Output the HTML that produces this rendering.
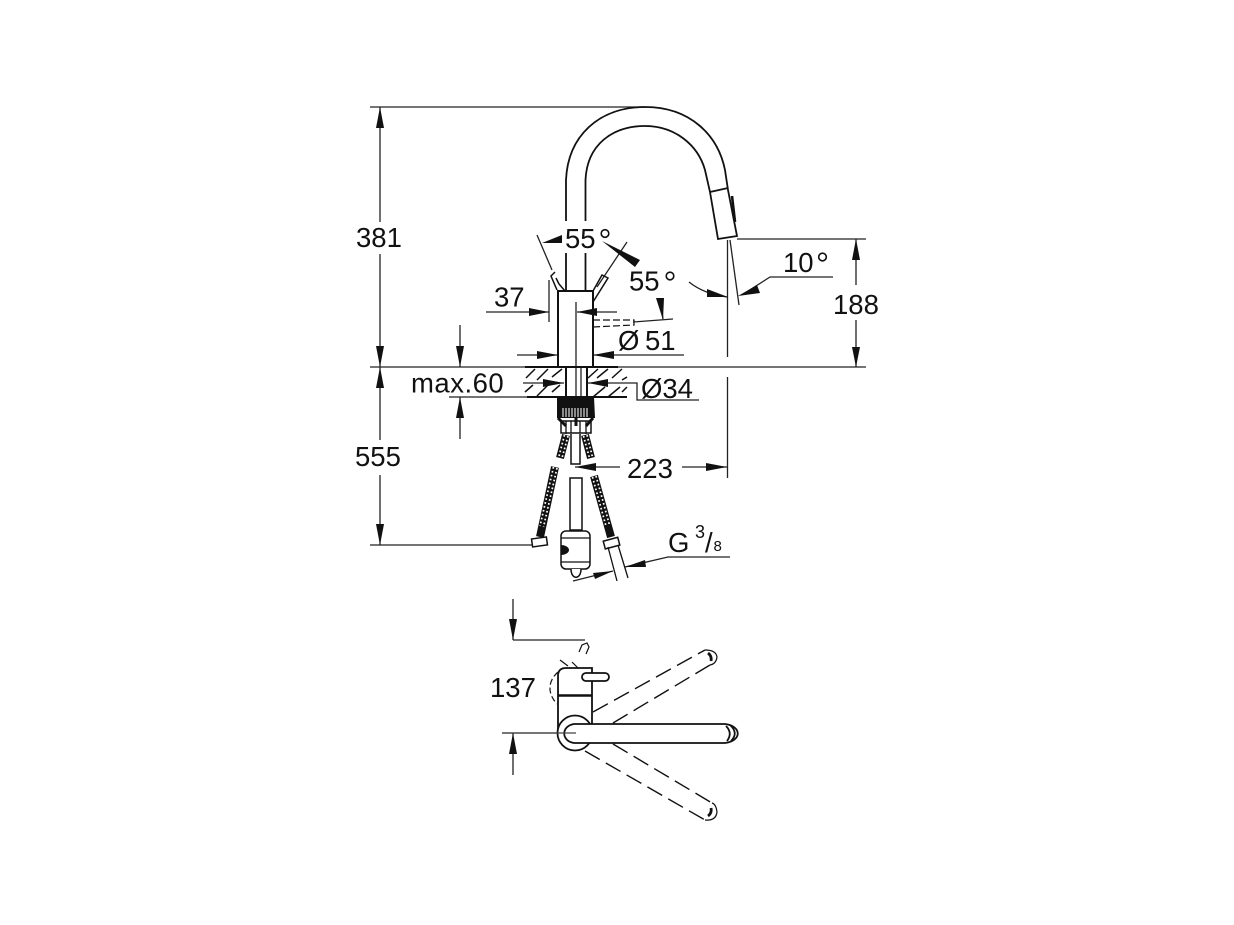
<!DOCTYPE html>
<html><head><meta charset="utf-8">
<style>
html,body{margin:0;padding:0;background:#fff;width:1234px;height:925px;overflow:hidden}
svg{display:block}
text{font-family:"Liberation Sans",sans-serif;font-size:27.5px;fill:#111}
</style></head><body>
<svg width="1234" height="925" viewBox="0 0 1234 925" xmlns="http://www.w3.org/2000/svg">
<rect width="1234" height="925" fill="#fff"/>
<!-- thin dimension lines -->
<g fill="none" stroke="#222" stroke-width="1.3">
<path d="M370 107H645M370 367H866M380 107V222M380 254V367M380 367V440M380 475V545M370 545H533"/>
<path d="M737 239H866M856 239V285M856 320V367"/>
<path d="M727.500 240V357M727.500 377V478M730 240L739 305M833 277H770L745 293M689 282Q704 294 727 297"/>
<path d="M575 467H620M682 467H727"/>
<path d="M486 312H549M549 280V322M576 302V400M581 367V397M577 312H617M517 355H558M593 355H684"/>
<path d="M523 383H564M588 383H637V400H699M460 325V367M460 397V439M449 397H560"/>
<path d="M537 235L552 270M627 242L597 287M633 322L673 319M660 298L663 319"/>
<path d="M573 581L613 571M625 567L668 557H730M513 599V640M513 640H585M513 733V775M502 733H575"/>
</g>
<!-- hatch -->
<g stroke="#111" stroke-width="1.500" fill="none">
<path d="M526 378L535 369M537 380L548 369M552 377L562 369M525 392L533 385M537 396L548 385M552 392L560 385"/>
<path d="M588 378L598 369M597 378L608 369M612 378L622 369M593 397L605 387M608 397L620 387M622 380L627 377M622 392L627 387"/>
<path d="M525 367H618M527 397H627" stroke-width="2"/>
</g>
<!-- spout -->
<g fill="none" stroke="#111" stroke-width="1.800">
<path d="M566 291V180C568 135 600 107 645 107C690 107 718 135 725 170L728 190L737 236L718 239L710 192L705 170C698 145 675 126 645 126C612 126 587 145 585.500 180V291"/>
<path d="M710 192L728 188"/>
<path d="M732 196L735 222" stroke-width="2.600"/>
</g>
<rect x="560" y="221" width="32" height="32" fill="#fff"/>
<g fill="none" stroke="#111" stroke-width="2">
<path d="M558 367V291H593V367M566 367V397M587 367V397"/>
<path d="M593 291L602 275L608 278L593 302" stroke-width="1.500"/>
<path d="M557 290L551 276L555 272M556 278L559 284M559 284L565 291" stroke-width="1.500"/>
</g>
<path d="M593 320H634V325L593 327" fill="none" stroke="#111" stroke-width="1.200" stroke-dasharray="7 3"/>
<!-- lower assembly -->
<path d="M557 397H594L595 418H557Z" fill="#111"/>
<path d="M563 417V408M566 417V408M569 417V408M572 417V408M575 417V408M578 417V408M581 417V408M584 417V408M587 417V408" stroke="#ddd" stroke-width="1.200"/>
<path d="M561 421H591V433H561Z" fill="#fff" stroke="#111" stroke-width="1.500"/>
<path d="M558 418L566 426M593 418L586 426M576 418V426" stroke="#111" stroke-width="3"/>
<path d="M571 421V433M580 421V433M566 421V434M586 421V434" stroke="#111" stroke-width="1.300"/>
<g fill="none" stroke-linecap="butt">
<path d="M566 435L560 458M585 435L591 458M555 467L540 537M594 476L611 537" stroke="#111" stroke-width="8"/>
<g stroke="#fff" stroke-width="1.700" stroke-dasharray="1.700 2.300">
<path d="M564.500 435L558.500 458M568 436L562 458M583.500 436L589.500 458M587 435L592.700 458"/>
<path d="M553.500 467L540 526M557 468L543.500 527M592.500 477L606 526M596 476L609.500 525"/>
</g>
</g>
<g fill="#fff" stroke="#111" stroke-width="1.500">
<path d="M571 434V464H580V434"/>
<path d="M570 478V530H582V478Z"/>
<rect x="561" y="531" width="29" height="38" rx="5"/>
<path d="M571 569C571 580 581 580 581 569"/>
<rect x="532" y="538" width="15" height="8" transform="rotate(-8 539 542)"/>
<rect x="604" y="539" width="15" height="8" transform="rotate(-15 612 543)"/>
</g>
<path d="M561 538H590M561 562H590" stroke="#111" stroke-width="1.300"/>
<path d="M561 545A8 5 0 0 1 561 555Z" fill="#111"/>
<path d="M608 547L617 581M618 545L628 578" stroke="#111" stroke-width="1.300"/>
<!-- top view -->
<g fill="none" stroke="#111" stroke-width="1.400" stroke-dasharray="17 7">
<path d="M593 712L705 650M613 723L710 665M585 751L705 820M613 744L712 803"/>
</g>
<g fill="none" stroke="#111" stroke-width="1.200">
<path d="M705 650Q716 650 717 657Q716 664 710 665M705 820Q716 821 717 812Q716 804 712 803"/>
<path d="M708 653Q712 656 711 661M708 816Q712 813 711 808" stroke-width="2.800"/>
<path d="M579 652L582 645L587 643L589 647L586 654M560 660L568 666M572 662L580 670"/>
<path d="M558 672C549 680 546 692 557 704M562 696C566 684 580 680 589 690" stroke-dasharray="6 3"/>
</g>
<g fill="#fff" stroke="#111" stroke-width="1.800">
<path d="M558 733V676Q558 668 566 668H592V733Z"/>
<path d="M558 695.500H592" stroke-width="2.500"/>
<rect x="582" y="673" width="27" height="8" rx="4"/>
<circle cx="575" cy="733" r="17.500"/>
<path d="M574 724H725C742 726 742 741 725 743H574C561 741 561 726 574 724Z"/>
<path d="M726 726Q733 733 727 741M730 725Q739 733 731 741" fill="none"/>
</g>
<path d="M502 733H576" stroke="#444" stroke-width="1.200"/>
<!-- arrowheads -->
<g fill="#111">
<polygon points="380,107 376,128 384,128"/><polygon points="380,367 376,346 384,346"/>
<polygon points="380,367 376,388 384,388"/><polygon points="380,545 376,524 384,524"/>
<polygon points="856,239 852,260 860,260"/><polygon points="856,367 852,347 860,347"/>
<polygon points="575,467 596,463 596,471"/><polygon points="727,467 706,463 706,471"/>
<polygon points="549,312 529,308 529,316"/><polygon points="577,312 597,308 597,316"/>
<polygon points="558,355 537,351 537,359"/><polygon points="593,355 614,351 614,359"/>
<polygon points="564,383 543,379 543,387"/><polygon points="588,383 608,379 608,387"/>
<polygon points="460,367 456,346 464,346"/><polygon points="460,397 456,418 464,418"/>
<polygon points="542,243 562,235 562,243"/><polygon points="602,241 640,260 635,267"/>
<polygon points="663,320 656,298 664,298"/>
<polygon points="728,297 707,289 707,297"/><polygon points="738,296 757,285 760,293"/>
<polygon points="613,571 593,573 595,579"/><polygon points="625,567 645,560 646,567"/>
<polygon points="513,640 509,619 517,619"/><polygon points="513,733 509,754 517,754"/>
</g>
<!-- labels -->
<text x="356" y="247">381</text>
<text x="355" y="466">555</text>
<text x="833" y="314">188</text>
<text x="627" y="478">223</text>
<text x="783" y="272">10</text><circle cx="822.500" cy="257" r="3.800" fill="none" stroke="#111" stroke-width="1.600"/>
<text x="494" y="306.500">37</text>
<text x="565" y="248">55</text><circle cx="605" cy="233.500" r="3.800" fill="none" stroke="#111" stroke-width="1.600"/>
<text x="629" y="290.500">55</text><circle cx="670" cy="276" r="3.800" fill="none" stroke="#111" stroke-width="1.600"/>
<text x="618" y="350">Ø</text><text x="645" y="350">51</text>
<text x="641" y="398">Ø34</text>
<text x="411" y="392.500" style="letter-spacing:.5px">max.60</text>
<text x="490" y="697">137</text>
<text x="668" y="552">G</text>
<text x="695" y="538" style="font-size:18px">3</text>
<text x="705" y="552">/</text>
<text x="713.500" y="551" style="font-size:15px">8</text>
</svg>
</body></html>
